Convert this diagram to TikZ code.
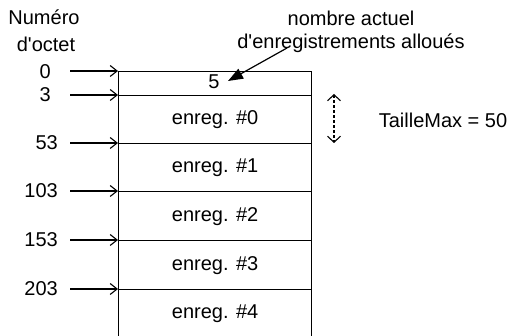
\documentclass[tikz,border=0pt]{standalone}
\usepackage{fontspec}
\newfontfamily\libsans{Liberation Sans}
\usetikzlibrary{arrows.meta}
\begin{document}
\begin{tikzpicture}[x=1pt,y=-1pt,
  every node/.style={font=\libsans\fontsize{20}{23}\selectfont, inner sep=0pt},
  cell/.style={draw, line width=1.2pt, minimum width=193pt, anchor=north west},
  ptr/.style={line width=1.2pt, -{Straight Barb[length=7pt,width=11pt,line width=1.1pt]}},
  lbl/.style={anchor=east}]
\useasboundingbox (0,0) rectangle (512,336);
% cells
\node[cell, minimum height=24pt] (h) at (118,71) {};
\node[cell, minimum height=48pt] (r0) at (118,95) {};
\node[cell, minimum height=48pt] (r1) at (118,143) {};
\node[cell, minimum height=49pt] (r2) at (118,191) {};
\node[cell, minimum height=49pt] (r3) at (118,240) {};
\node[cell, minimum height=49pt] (r4) at (118,289) {};
\node (five) at (214,82) {5};
\node at (r0.center) {enreg. \#0};
\node at (r1.center) {enreg. \#1};
\node at (r2.center) {enreg. \#2};
\node at (r3.center) {enreg. \#3};
\node at (r4.center) {enreg. \#4};
% byte labels
\node (n1) at (44,17) {Numéro};
\node (n2) at (46,44) {d'octet};
\node[lbl] (l0) at (51,72) {0};
\node[lbl] (l1) at (51,95) {3};
\node[lbl] (l2) at (58,143) {53};
\node[lbl] (l3) at (58,191) {103};
\node[lbl] (l4) at (58,240) {153};
\node[lbl] (l5) at (58,289) {203};
\coordinate (s0) at (70,71);
\coordinate (s1) at (70,95);
\coordinate (s2) at (70,143);
\coordinate (s3) at (70,191);
\coordinate (s4) at (70,240);
\coordinate (s5) at (70,289);
\draw[ptr] (s0) -- (h.north west);
\draw[ptr] (s1) -- (r0.north west);
\draw[ptr] (s2) -- (r1.north west);
\draw[ptr] (s3) -- (r2.north west);
\draw[ptr] (s4) -- (r3.north west);
\draw[ptr] (s5) -- (r4.north west);
% annotation
\node (a1) at (351,18) {nombre actuel};
\node (a2) at (351,43) {d'enregistrements alloués};
\coordinate (pa) at (287,48);
\coordinate (pb) at (228,81);
\draw[line width=1.2pt, -{Triangle[length=15pt,width=11pt]}] (pa) -- (pb);
% TailleMax
\coordinate (d1) at (334,94);
\coordinate (d2) at (334,143);
\draw[line width=1.2pt, dash pattern=on 2.5pt off 2.5pt,
  {Straight Barb[length=6pt,width=13pt,line width=1.1pt]}-{Straight Barb[length=6pt,width=13pt,line width=1.1pt]}] (d1) -- (d2);
\node (tm) at (443,120) {TailleMax = 50};
\end{tikzpicture}
\end{document}
